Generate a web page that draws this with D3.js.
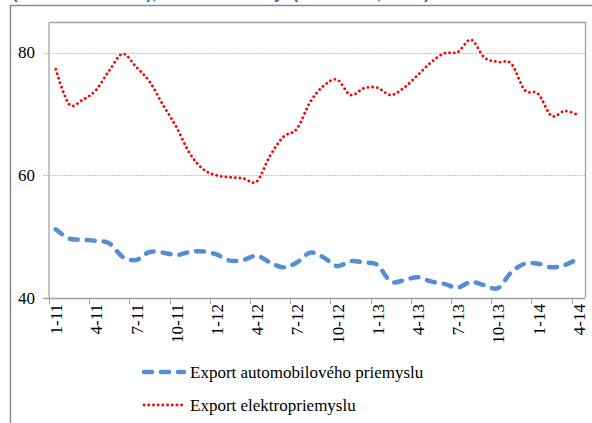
<!DOCTYPE html>
<html>
<head>
<meta charset="utf-8">
<script src="https://d3js.org/d3.v7.min.js"></script>
<style>
  body { margin: 0; background: #fff; overflow: hidden; }
  .serif { font-family: "Times New Roman", "Liberation Serif", Tinos, "Noto Serif", "DejaVu Serif", serif; }
</style>
</head>
<body>
<script>
// monthly categories 1-11 .. 4-14
var months = ["1-11","2-11","3-11","4-11","5-11","6-11","7-11","8-11","9-11","10-11","11-11","12-11",
              "1-12","2-12","3-12","4-12","5-12","6-12","7-12","8-12","9-12","10-12","11-12","12-12",
              "1-13","2-13","3-13","4-13","5-13","6-13","7-13","8-13","9-13","10-13","11-13","12-13",
              "1-14","2-14","3-14","4-14"];
var tickLabels = ["1-11","4-11","7-11","10-11","1-12","4-12","7-12","10-12","1-13","4-13","7-13","10-13","1-14","4-14"];
var autoExport = [51.2,49.7,49.5,49.3,48.9,46.7,46.2,47.5,47.4,47.0,47.5,47.6,47.1,46.1,46.2,46.9,45.8,45.0,45.8,47.4,
                  46.6,45.2,46.0,45.8,45.4,42.7,42.9,43.4,42.7,42.3,41.7,42.6,42.1,41.6,44.2,45.6,45.6,45.0,45.4,46.4];
var elektroExport = [77.3,71.6,72.3,73.9,77.1,79.8,77.7,75.3,71.5,67.9,63.6,61.0,60.0,59.7,59.5,59.0,63.2,66.3,67.6,72.0,
                     74.6,75.6,73.1,74.2,74.3,73.1,74.3,76.3,78.4,79.9,80.1,82.1,79.2,78.5,78.2,73.9,73.3,69.7,70.5,69.8];
var yTicks = [40, 60, 80];
var legendNames = ["Export automobilového priemyslu", "Export elektropriemyslu"];
var titleText = "(medziročne v %), reálne hodnoty  (ŠÚ a NBS, 2014)";

var width = 592, height = 423;
var plotLeft = 49, plotRight = 585, plotTop = 22, plotBottom = 298;

var svg = d3.select("body").append("svg")
  .attr("width", width)
  .attr("height", height);

// title, only the lowest part of it shows at the top
svg.append("text")
  .attr("x", 12).attr("y", -1)
  .attr("fill", "#1f6fc5")
  .attr("font-weight", "bold")
  .style("font-family", "'Liberation Sans', Arial, sans-serif")
  .style("white-space", "pre")
  .attr("font-size", 17)
  .text(titleText);

// outer chart frame
svg.append("path")
  .attr("d", "M10.5," + height + "V5.5H" + width)
  .attr("fill", "none")
  .attr("stroke", "#8a8a8a")
  .attr("stroke-width", 1.5);

var x = d3.scaleBand().domain(months).range([plotLeft, plotRight]);
var y = d3.scaleLinear().domain([40, 85]).range([plotBottom, plotTop]);

// grid lines
svg.selectAll(".grid")
  .data(yTicks.filter(function(d) { return d > 40; }))
  .enter().append("line")
  .attr("x1", plotLeft - 6).attr("x2", plotRight)
  .attr("y1", function(d) { return Math.round(y(d)) + 0.5; })
  .attr("y2", function(d) { return Math.round(y(d)) + 0.5; })
  .attr("stroke", "#c4c4c4")
  .attr("stroke-dasharray", "2,1");

// plot frame: top and right
svg.append("path")
  .attr("d", "M" + plotLeft + "," + (plotTop + 0.5) + "H" + (plotRight + 0.5) + "V" + plotBottom)
  .attr("fill", "none")
  .attr("stroke", "#a0a0a0")
  .attr("stroke-width", 1.3);

// y axis line
svg.append("line")
  .attr("x1", plotLeft).attr("x2", plotLeft)
  .attr("y1", plotTop).attr("y2", plotBottom)
  .attr("stroke", "#c4c4c4")
  .attr("stroke-width", 2);

// x axis line
svg.append("line")
  .attr("x1", plotLeft - 6).attr("x2", plotRight)
  .attr("y1", plotBottom + 0.5).attr("y2", plotBottom + 0.5)
  .attr("stroke", "#a0a0a0")
  .attr("stroke-width", 1.3);

// y labels
svg.selectAll(".ylab")
  .data(yTicks)
  .enter().append("text")
  .attr("class", "serif")
  .attr("x", 35)
  .attr("y", function(d) { return y(d); })
  .attr("text-anchor", "end")
  .attr("dominant-baseline", "central")
  .attr("font-size", 17)
  .attr("fill", "#000")
  .text(function(d) { return d; });

// x ticks between categories, every 3 months
svg.selectAll(".xtick")
  .data(tickLabels)
  .enter().append("line")
  .attr("x1", function(d) { return Math.round(x(d)) + 0.5; })
  .attr("x2", function(d) { return Math.round(x(d)) + 0.5; })
  .attr("y1", plotBottom).attr("y2", plotBottom + 6)
  .attr("stroke", "#a0a0a0");

svg.selectAll(".xlab")
  .data(tickLabels)
  .enter().append("text")
  .attr("class", "serif")
  .attr("transform", function(d) {
    return "translate(" + (x(d) + x.bandwidth() / 2 + 1) + "," + (plotBottom + 6) + ") rotate(-90)";
  })
  .attr("text-anchor", "end")
  .attr("dominant-baseline", "central")
  .attr("font-size", 17)
  .attr("fill", "#000")
  .text(function(d) { return d; });

var line = d3.line()
  .x(function(d, i) { return x(months[i]) + x.bandwidth() / 2; })
  .y(function(d) { return y(d); })
  .curve(d3.curveCardinal);

svg.append("path")
  .datum(autoExport)
  .attr("d", line)
  .attr("fill", "none")
  .attr("stroke", "#558ed5")
  .attr("stroke-width", 4.5)
  .attr("stroke-linecap", "round")
  .attr("stroke-dasharray", "8,9");

svg.append("path")
  .datum(elektroExport)
  .attr("d", line)
  .attr("fill", "none")
  .attr("stroke", "#ff0000")
  .attr("stroke-width", 2.8)
  .attr("stroke-linecap", "round")
  .attr("stroke-dasharray", "0.1,4.6");

// legend
var legendY = [372, 405];
var legendStyles = [
  {stroke: "#558ed5", width: 4.5, dash: "8,9"},
  {stroke: "#ff0000", width: 2.8, dash: "0.1,4.6"}
];
var legend = svg.selectAll(".legend")
  .data(legendNames)
  .enter().append("g")
  .attr("transform", function(d, i) { return "translate(0," + legendY[i] + ")"; });

legend.append("line")
  .attr("x1", 144).attr("x2", 184)
  .attr("y1", 0).attr("y2", 0)
  .attr("stroke", function(d, i) { return legendStyles[i].stroke; })
  .attr("stroke-width", function(d, i) { return legendStyles[i].width; })
  .attr("stroke-linecap", "round")
  .attr("stroke-dasharray", function(d, i) { return legendStyles[i].dash; });

legend.append("text")
  .attr("class", "serif")
  .attr("x", 190)
  .attr("y", 0)
  .attr("dominant-baseline", "central")
  .attr("font-size", 17)
  .attr("fill", "#000")
  .text(function(d) { return d; });
</script>
</body>
</html>
